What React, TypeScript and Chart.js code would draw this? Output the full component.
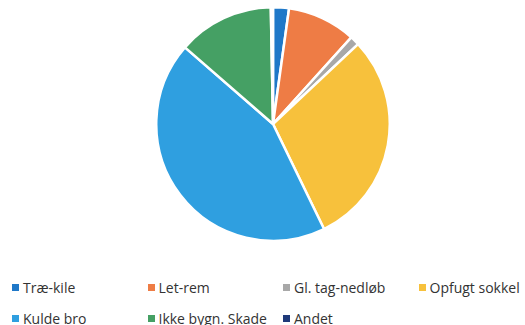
import React, { useEffect, useRef } from "react";
import { Chart, registerables } from "chart.js";

Chart.register(...registerables);

const categories = ["Træ-kile", "Let-rem", "Gl. tag-nedløb", "Opfugt sokkel", "Kulde bro", "Ikke bygn. Skade", "Andet"];
const values = [2.2, 9.5, 1.3, 29.8, 43.6, 13.3, 0.3];
const colors = ["#1f78c8", "#ee7c45", "#a8a8a8", "#f7c13c", "#2f9fe0", "#45a064", "#1f3a7a"];

// legend layout: row / column for each category
const legendRows = [0, 0, 0, 0, 1, 1, 1];
const legendCols = [0, 1, 2, 3, 0, 1, 2];

export default function App() {
  const ref = useRef<HTMLCanvasElement>(null);
  useEffect(() => {
    if (!ref.current) return;
    const chart = new Chart(ref.current, {
      type: "pie",
      data: {
        labels: categories,
        datasets: [
          {
            data: values,
            backgroundColor: colors,
            borderColor: "#ffffff",
            borderWidth: 2.5,
          },
        ],
      },
      options: {
        animation: false,
        responsive: false,
        maintainAspectRatio: false,
        plugins: { legend: { display: false }, tooltip: { enabled: false } },
        layout: { padding: 0 },
      },
    });
    return () => chart.destroy();
  }, []);

  return (
    <div style={{ position: "fixed", left: 0, top: 0, width: 525, height: 325, background: "#fff", overflow: "hidden" }}>
      <div style={{ position: "absolute", left: 155, top: 6, width: 236, height: 236 }}>
        <canvas ref={ref} width={236} height={236} style={{ width: 236, height: 236 }} />
      </div>
      {categories.map((c, i) => (
        <div
          key={c}
          style={{
            position: "absolute",
            left: 12 + legendCols[i] * 135.5,
            top: legendRows[i] === 0 ? 278 : 309,
            height: 18,
            display: "flex",
            alignItems: "center",
            fontFamily: "'Open Sans', sans-serif",
            fontSize: 14,
            color: "#333333",
            whiteSpace: "nowrap",
          }}
        >
          <span style={{ display: "inline-block", width: 7, height: 7, background: colors[i], marginRight: 4 }} />
          <span>{c}</span>
        </div>
      ))}
    </div>
  );
}
